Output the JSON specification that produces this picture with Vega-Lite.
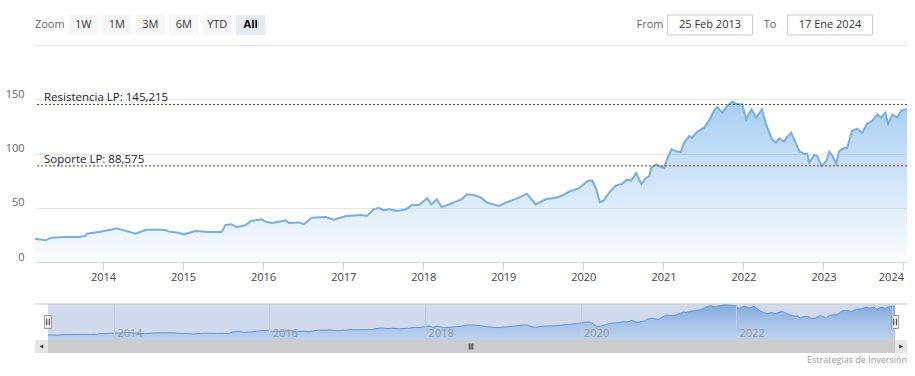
{
  "$schema": "https://vega.github.io/schema/vega-lite/v6.json",
  "padding": {"left": 5, "top": 14, "right": 0, "bottom": 0},
  "bounds": "flush",
  "spacing": 0,
  "config": {
    "view": {"stroke": null},
    "font": "Open Sans",
    "text": {"font": "Open Sans"},
    "axis": {"labelFont": "Open Sans", "titleFont": "Open Sans"}
  },
  "datasets": {
    "prices": [
      {"date": "2013-02-25", "value": 21.5},
      {"date": "2013-04-14", "value": 20},
      {"date": "2013-05-11", "value": 22.4},
      {"date": "2013-07-14", "value": 23},
      {"date": "2013-09-13", "value": 23},
      {"date": "2013-10-14", "value": 24},
      {"date": "2013-10-19", "value": 26},
      {"date": "2013-12-13", "value": 27.6},
      {"date": "2014-02-11", "value": 30},
      {"date": "2014-03-04", "value": 31},
      {"date": "2014-04-28", "value": 28},
      {"date": "2014-05-29", "value": 26},
      {"date": "2014-07-14", "value": 29.5},
      {"date": "2014-08-29", "value": 30},
      {"date": "2014-10-14", "value": 29.5},
      {"date": "2014-10-28", "value": 28},
      {"date": "2014-12-13", "value": 27},
      {"date": "2015-01-05", "value": 25.5},
      {"date": "2015-02-27", "value": 28.5},
      {"date": "2015-04-28", "value": 27.6},
      {"date": "2015-06-26", "value": 27.6},
      {"date": "2015-07-14", "value": 34},
      {"date": "2015-08-11", "value": 34.7},
      {"date": "2015-09-04", "value": 32},
      {"date": "2015-10-14", "value": 34},
      {"date": "2015-11-07", "value": 37.8},
      {"date": "2015-12-26", "value": 39.3},
      {"date": "2016-01-14", "value": 37},
      {"date": "2016-02-11", "value": 36},
      {"date": "2016-04-14", "value": 38.4},
      {"date": "2016-04-28", "value": 36},
      {"date": "2016-06-13", "value": 36.5},
      {"date": "2016-07-05", "value": 34.7},
      {"date": "2016-08-11", "value": 40.8},
      {"date": "2016-10-14", "value": 41.5},
      {"date": "2016-11-20", "value": 39},
      {"date": "2017-01-14", "value": 42.4},
      {"date": "2017-03-26", "value": 43.3},
      {"date": "2017-04-19", "value": 42.4},
      {"date": "2017-05-20", "value": 48.6},
      {"date": "2017-06-13", "value": 50},
      {"date": "2017-07-05", "value": 47.6},
      {"date": "2017-07-28", "value": 48.6},
      {"date": "2017-09-04", "value": 47},
      {"date": "2017-10-14", "value": 48.6},
      {"date": "2017-11-11", "value": 52.5},
      {"date": "2017-12-13", "value": 52.5},
      {"date": "2018-01-19", "value": 58.7},
      {"date": "2018-02-07", "value": 53},
      {"date": "2018-03-04", "value": 57.8},
      {"date": "2018-03-26", "value": 50.7},
      {"date": "2018-04-28", "value": 53},
      {"date": "2018-05-29", "value": 55.6},
      {"date": "2018-06-26", "value": 57.8},
      {"date": "2018-07-19", "value": 62.4},
      {"date": "2018-08-20", "value": 61.7},
      {"date": "2018-09-22", "value": 59.3},
      {"date": "2018-10-19", "value": 54.7},
      {"date": "2018-12-13", "value": 51.6},
      {"date": "2019-01-14", "value": 54.7},
      {"date": "2019-03-13", "value": 59.3},
      {"date": "2019-04-19", "value": 63},
      {"date": "2019-05-29", "value": 53},
      {"date": "2019-07-14", "value": 57.8},
      {"date": "2019-08-29", "value": 59.3},
      {"date": "2019-09-26", "value": 61},
      {"date": "2019-10-28", "value": 64.8},
      {"date": "2019-12-13", "value": 68},
      {"date": "2020-01-19", "value": 74.5},
      {"date": "2020-02-11", "value": 75.3},
      {"date": "2020-02-28", "value": 68},
      {"date": "2020-03-17", "value": 55},
      {"date": "2020-04-05", "value": 57},
      {"date": "2020-04-28", "value": 64},
      {"date": "2020-05-29", "value": 70.5},
      {"date": "2020-06-26", "value": 72},
      {"date": "2020-07-19", "value": 76},
      {"date": "2020-08-07", "value": 75},
      {"date": "2020-08-29", "value": 82},
      {"date": "2020-09-22", "value": 72},
      {"date": "2020-10-14", "value": 77.7},
      {"date": "2020-10-28", "value": 79},
      {"date": "2020-11-07", "value": 87},
      {"date": "2020-11-29", "value": 90},
      {"date": "2020-12-22", "value": 87.5},
      {"date": "2021-01-05", "value": 87},
      {"date": "2021-01-14", "value": 93},
      {"date": "2021-02-07", "value": 104},
      {"date": "2021-02-27", "value": 102},
      {"date": "2021-03-22", "value": 101.7},
      {"date": "2021-04-05", "value": 110},
      {"date": "2021-04-28", "value": 116},
      {"date": "2021-05-11", "value": 114.6},
      {"date": "2021-06-04", "value": 120},
      {"date": "2021-07-05", "value": 123.8},
      {"date": "2021-07-28", "value": 130},
      {"date": "2021-08-20", "value": 139.8},
      {"date": "2021-09-04", "value": 142.9},
      {"date": "2021-09-26", "value": 137.6},
      {"date": "2021-10-19", "value": 143.8},
      {"date": "2021-11-11", "value": 147.7},
      {"date": "2021-12-04", "value": 145.3},
      {"date": "2021-12-26", "value": 145.3},
      {"date": "2022-01-14", "value": 131.5},
      {"date": "2022-02-07", "value": 140.7},
      {"date": "2022-02-28", "value": 133},
      {"date": "2022-03-08", "value": 135.5},
      {"date": "2022-03-26", "value": 140.7},
      {"date": "2022-04-14", "value": 127},
      {"date": "2022-05-11", "value": 113},
      {"date": "2022-05-29", "value": 110},
      {"date": "2022-06-13", "value": 114},
      {"date": "2022-07-05", "value": 111},
      {"date": "2022-07-19", "value": 115},
      {"date": "2022-08-07", "value": 119},
      {"date": "2022-08-20", "value": 113},
      {"date": "2022-09-13", "value": 102},
      {"date": "2022-10-05", "value": 99.8},
      {"date": "2022-10-19", "value": 99.8},
      {"date": "2022-10-28", "value": 91.5},
      {"date": "2022-11-20", "value": 98.6},
      {"date": "2022-12-04", "value": 97.7},
      {"date": "2022-12-22", "value": 88.5},
      {"date": "2023-01-14", "value": 93},
      {"date": "2023-01-28", "value": 101.7},
      {"date": "2023-02-11", "value": 97.7},
      {"date": "2023-02-28", "value": 90.6},
      {"date": "2023-03-13", "value": 102},
      {"date": "2023-04-05", "value": 105},
      {"date": "2023-04-19", "value": 105},
      {"date": "2023-05-11", "value": 121},
      {"date": "2023-06-04", "value": 123},
      {"date": "2023-06-26", "value": 119},
      {"date": "2023-07-19", "value": 127.5},
      {"date": "2023-08-11", "value": 130},
      {"date": "2023-09-04", "value": 136},
      {"date": "2023-09-22", "value": 133},
      {"date": "2023-10-10", "value": 137.6},
      {"date": "2023-10-23", "value": 127.5},
      {"date": "2023-11-11", "value": 136},
      {"date": "2023-12-04", "value": 133},
      {"date": "2023-12-22", "value": 139.8},
      {"date": "2024-01-17", "value": 140.7}
    ],
    "levels": [
      {"name": "Resistencia LP", "label": "Resistencia LP: 145,215", "value": 145.215},
      {"name": "Soporte LP", "label": "Soporte LP: 88,575", "value": 88.575}
    ],
    "buttons": [
      {"label": "Zoom"}, {"label": "1W"}, {"label": "1M"}, {"label": "3M"},
      {"label": "6M"}, {"label": "YTD"}, {"label": "All"}
    ],
    "range": [
      {"key": "From", "text": "From"},
      {"key": "fromDate", "text": "25 Feb 2013"},
      {"key": "To", "text": "To"},
      {"key": "toDate", "text": "17 Ene 2024"}
    ]
  },
  "vconcat": [
    {
      "width": 872,
      "height": 20,
      "layer": [
        {
          "data": {"name": "buttons"},
          "transform": [{"filter": "datum.label != 'Zoom'"}],
          "mark": {"type": "rect"},
          "encoding": {
            "x": {"field": "label", "type": "nominal", "axis": null,
              "scale": {"type": "band", "domain": ["Zoom", "1W", "1M", "3M", "6M", "YTD", "All", "b1", "b2", "b3", "b4", "b5", "b6", "b7", "b8", "b9", "b10", "b11", "b12", "b13", "b14", "b15", "b16", "b17", "b18", "b19"], "paddingInner": 0.12, "paddingOuter": 0.075, "align": 0, "round": false}},
            "fill": {"condition": {"test": "datum.label == 'All'", "value": "#e6ebf5"}, "value": "#f7f7f7"}
          }
        },
        {
          "data": {"name": "buttons"},
          "transform": [{"filter": "datum.label != 'All'"}],
          "mark": {"type": "text", "fontSize": 11, "baseline": "middle"},
          "encoding": {
            "x": {"field": "label", "type": "nominal", "axis": null, "bandPosition": 0.5,
              "scale": {"type": "band", "domain": ["Zoom", "1W", "1M", "3M", "6M", "YTD", "All", "b1", "b2", "b3", "b4", "b5", "b6", "b7", "b8", "b9", "b10", "b11", "b12", "b13", "b14", "b15", "b16", "b17", "b18", "b19"], "paddingInner": 0.12, "paddingOuter": 0.075, "align": 0, "round": false}},
            "text": {"field": "label"},
            "color": {"condition": {"test": "datum.label == 'Zoom'", "value": "#666666"}, "value": "#333333"}
          }
        },
        {
          "data": {"name": "buttons"},
          "transform": [{"filter": "datum.label == 'All'"}],
          "mark": {"type": "text", "fontSize": 11, "fontWeight": "bold", "baseline": "middle", "color": "#000000"},
          "encoding": {
            "x": {"field": "label", "type": "nominal", "axis": null, "bandPosition": 0.5,
              "scale": {"type": "band", "domain": ["Zoom", "1W", "1M", "3M", "6M", "YTD", "All", "b1", "b2", "b3", "b4", "b5", "b6", "b7", "b8", "b9", "b10", "b11", "b12", "b13", "b14", "b15", "b16", "b17", "b18", "b19"], "paddingInner": 0.12, "paddingOuter": 0.075, "align": 0, "round": false}},
            "text": {"field": "label"}
          }
        },
        {
          "data": {"name": "range"},
          "transform": [{"filter": "datum.key == 'fromDate' || datum.key == 'toDate'"}],
          "mark": {"type": "rect", "width": 85, "fill": "#ffffff", "stroke": "#cccccc", "strokeWidth": 1},
          "encoding": {
            "x": {"field": "key", "type": "nominal", "axis": null,
              "scale": {"type": "band", "domain": ["r1", "r2", "r3", "r4", "r5", "r6", "r7", "r8", "r9", "From", "fromDate", "To", "toDate"], "paddingInner": 0, "paddingOuter": 0.767, "align": 0.489, "round": false}}
          }
        },
        {
          "data": {"name": "range"},
          "mark": {"type": "text", "fontSize": 11, "baseline": "middle"},
          "encoding": {
            "x": {"field": "key", "type": "nominal", "axis": null, "bandPosition": 0.5,
              "scale": {"type": "band", "domain": ["r1", "r2", "r3", "r4", "r5", "r6", "r7", "r8", "r9", "From", "fromDate", "To", "toDate"], "paddingInner": 0, "paddingOuter": 0.767, "align": 0.489, "round": false}},
            "text": {"field": "text"},
            "color": {"condition": {"test": "datum.key == 'From' || datum.key == 'To'", "value": "#666666"}, "value": "#333333"}
          }
        }
      ],
      "resolve": {"scale": {"x": "independent"}}
    },
    {
      "width": 872,
      "height": 10,
      "data": {"values": []},
      "mark": "point",
      "encoding": {}
    },
    {
      "width": 872,
      "height": 217,
      "layer": [
        {
          "data": {"name": "prices"},
          "mark": {
            "type": "area",
            "line": {"color": "#78aee2", "strokeWidth": 2},
            "color": {
              "gradient": "linear", "x1": 1, "y1": 0, "x2": 1, "y2": 1,
              "stops": [
                {"offset": 0, "color": "rgba(124,181,236,0.95)"},
                {"offset": 1, "color": "rgba(124,181,236,0.03)"}
              ]
            }
          },
          "encoding": {
            "x": {
              "field": "date", "type": "temporal", "title": null,
              "axis": {
                "format": "%Y", "tickCount": {"interval": "year", "step": 1},
                "domainColor": "#ccd6eb", "tickColor": "#ccd6eb", "tickSize": 8,
                "labelPadding": 1, "labelColor": "#444444", "labelFontSize": 11,
                "labelFlush": 6, "grid": false
              }
            },
            "y": {
              "field": "value", "type": "quantitative", "title": null,
              "scale": {"domain": [0, 200], "nice": false},
              "axis": {
                "values": [0, 50, 100, 150, 200],
                "labelExpr": "datum.value == 200 ? '' : datum.label",
                "grid": true, "gridColor": "#e6e6e6", "domain": false, "ticks": false,
                "labelPadding": 11, "labelOffset": -5, "labelColor": "#666666", "labelFontSize": 11
              }
            }
          }
        },
        {
          "data": {"name": "levels"},
          "mark": {"type": "rule", "strokeDash": [2, 2], "strokeWidth": 1},
          "encoding": {
            "y": {"field": "value", "type": "quantitative"},
            "color": {"field": "name", "type": "nominal", "legend": null,
              "scale": {"domain": ["Resistencia LP", "Soporte LP"], "range": ["#2e5a2e", "#8b2a2a"]}}
          }
        },
        {
          "data": {"name": "levels"},
          "mark": {"type": "text", "align": "left", "baseline": "alphabetic", "dx": 9, "dy": -3, "fontSize": 11.5, "color": "#222222"},
          "encoding": {
            "x": {"datum": {"year": 2013, "month": 2, "date": 25}, "type": "temporal"},
            "y": {"field": "value", "type": "quantitative"},
            "text": {"field": "label"}
          }
        }
      ]
    },
    {
      "width": 872,
      "height": 42,
      "data": {"values": []},
      "mark": "point",
      "encoding": {}
    },
    {
      "width": 872,
      "height": 36,
      "layer": [
        {
          "data": {"name": "prices"},
          "mark": {"type": "rect", "color": "#d1daed"},
          "encoding": {
            "x": {"aggregate": "min", "field": "date", "type": "temporal",
              "scale": {"domain": [{"year": 2012, "month": 12, "date": 26}, {"year": 2024, "month": 3, "date": 13}]}},
            "x2": {"aggregate": "max", "field": "date"}
          }
        },
        {
          "data": {"name": "prices"},
          "mark": {
            "type": "area",
            "line": {"color": "#5f95d4", "strokeWidth": 1},
            "color": {
              "gradient": "linear", "x1": 1, "y1": 0, "x2": 1, "y2": 1,
              "stops": [
                {"offset": 0, "color": "rgba(80,135,210,0.85)"},
                {"offset": 1, "color": "rgba(124,181,236,0.35)"}
              ]
            }
          },
          "encoding": {
            "x": {
              "field": "date", "type": "temporal", "title": null,
              "scale": {"domain": [{"year": 2012, "month": 12, "date": 26}, {"year": 2024, "month": 3, "date": 13}]},
              "axis": {
                "format": "%Y", "tickCount": {"interval": "year", "step": 2},
                "labelExpr": "year(datum.value) >= 2024 ? '' : datum.label",
                "grid": true, "gridColor": "#c3cbda", "ticks": false, "domain": false,
                "labelAlign": "left", "labelOffset": 3, "labelPadding": -4, "labelBaseline": "alphabetic",
                "labelColor": "#999999", "labelFontSize": 11, "labelFlush": false, "zindex": 1
              }
            },
            "y": {"field": "value", "type": "quantitative", "axis": null,
              "scale": {"domain": [0, 150], "nice": false}}
          }
        },
        {
          "data": {"values": [{"edge": "top"}]},
          "mark": {"type": "rule", "color": "#cccccc", "strokeWidth": 1},
          "encoding": {
            "y": {"datum": 150, "type": "quantitative"}
          }
        },
        {
          "data": {"name": "prices"},
          "mark": {"type": "point", "shape": "M-0.54,-1L0.54,-1L0.54,1L-0.54,1Z", "size": 169, "filled": true, "fill": "#f2f2f2", "stroke": "#999999", "strokeWidth": 1, "opacity": 1},
          "encoding": {"x": {"aggregate": "min", "field": "date", "type": "temporal"}}
        },
        {
          "data": {"name": "prices"},
          "mark": {"type": "point", "shape": "M-0.54,-1L0.54,-1L0.54,1L-0.54,1Z", "size": 169, "filled": true, "fill": "#f2f2f2", "stroke": "#999999", "strokeWidth": 1, "opacity": 1},
          "encoding": {"x": {"aggregate": "max", "field": "date", "type": "temporal"}}
        },
        {
          "data": {"name": "prices"},
          "mark": {"type": "point", "shape": "M-0.2,-0.5L-0.2,0.5M0.2,-0.5L0.2,0.5", "size": 169, "filled": false, "stroke": "#333333", "strokeWidth": 1, "opacity": 1},
          "encoding": {"x": {"aggregate": "min", "field": "date", "type": "temporal"}}
        },
        {
          "data": {"name": "prices"},
          "mark": {"type": "point", "shape": "M-0.2,-0.5L-0.2,0.5M0.2,-0.5L0.2,0.5", "size": 169, "filled": false, "stroke": "#333333", "strokeWidth": 1, "opacity": 1},
          "encoding": {"x": {"aggregate": "max", "field": "date", "type": "temporal"}}
        }
      ]
    },
    {
      "width": 872,
      "height": 13,
      "view": {"fill": "#e6e6e6"},
      "layer": [
        {
          "data": {"name": "prices"},
          "mark": {"type": "rect", "color": "#cccccc"},
          "encoding": {
            "x": {"aggregate": "min", "field": "date", "type": "temporal", "axis": null,
              "scale": {"domain": [{"year": 2012, "month": 12, "date": 26}, {"year": 2024, "month": 3, "date": 13}]}},
            "x2": {"aggregate": "max", "field": "date"}
          }
        },
        {
          "data": {"name": "prices"},
          "mark": {"type": "point", "shape": "triangle-left", "size": 18, "filled": true, "color": "#333333", "opacity": 1, "xOffset": -6.5},
          "encoding": {"x": {"aggregate": "min", "field": "date", "type": "temporal", "axis": null}}
        },
        {
          "data": {"name": "prices"},
          "mark": {"type": "point", "shape": "triangle-right", "size": 18, "filled": true, "color": "#333333", "opacity": 1, "xOffset": 6},
          "encoding": {"x": {"aggregate": "max", "field": "date", "type": "temporal", "axis": null}}
        },
        {
          "data": {"values": [{"grip": "III"}]},
          "mark": {"type": "point", "shape": "M-0.6,-1L-0.6,1M0,-1L0,1M0.6,-1L0.6,1", "size": 36, "filled": false, "stroke": "#333333", "strokeWidth": 1, "opacity": 1},
          "encoding": {}
        }
      ]
    },
    {
      "width": 872,
      "height": 13,
      "data": {"values": [{"credit": "Estrategias de Inversión"}]},
      "mark": {"type": "text", "align": "right", "baseline": "middle", "fontSize": 9, "color": "#999999", "x": "width"},
      "encoding": {"text": {"field": "credit"}}
    }
  ]
}
